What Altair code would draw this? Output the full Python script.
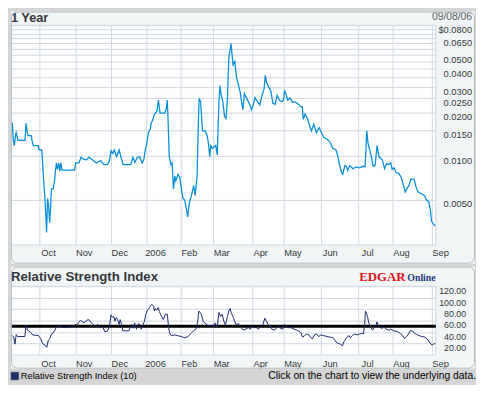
import altair as alt
import pandas as pd

# ---------------- data ----------------
month_labels = ["Oct", "Nov", "Dec", "2006", "Feb", "Mar", "Apr", "May", "Jun", "Jul", "Aug", "Sep"]
month_idx = [17, 38, 59, 80, 100, 119, 142, 161, 183, 205, 225, 248]  # trading-day index of month starts

price_grid = [0.005, 0.01, 0.015, 0.02, 0.025, 0.03, 0.035, 0.04, 0.045, 0.05,
              0.055, 0.06, 0.065, 0.07, 0.075, 0.08]
price_labels = [0.005, 0.01, 0.015, 0.02, 0.025, 0.03, 0.04, 0.05, 0.065, 0.08]
price_label_text = ["0.0050", "0.0100", "0.0150", "0.0200", "0.0250", "0.0300", "0.0400",
                    "0.0500", "0.0650", "$0.0800"]
rsi_grid = [0, 20, 40, 60, 80, 100, 120]
rsi_labels = [20, 40, 60, 80, 100, 120]
rsi_label_text = ["20.00", "40.00", "60.00", "80.00", "100.00", "120.00"]
rsi_mid = [50]

top_i = [0, 0.8, 1.4, 2.0, 2.8, 3.1, 4.1, 8.3, 8.9, 9.5,
         10.1, 12.0, 12.4, 13.2, 16.1, 16.6, 18.2, 18.6, 19.3, 20.1,
         20.7, 21.0, 21.6, 22.2, 22.8, 23.4, 23.9, 24.9, 25.7, 26.2,
         26.8, 27.4, 28.2, 28.8, 29.4, 30.1, 37.5, 38.2, 40.1, 41.3,
         42.7, 44.6, 45.9, 47.9, 50.3, 52.8, 54.8, 56.7, 58.0, 59.0,
         60.0, 60.9, 62.3, 63.8, 64.8, 66.1, 70.6, 71.9, 73.1, 74.5,
         76.0, 77.3, 78.3, 79.2, 80.2, 81.0, 82.1, 82.5, 83.7, 84.5,
         86.0, 86.9, 87.9, 90.8, 91.6, 92.1, 92.5, 93.3, 94.3, 95.0,
         95.8, 96.6, 97.2, 98.5, 99.5, 100.5, 101.4, 102.4, 103.7, 104.1,
         105.3, 106.2, 107.7, 108.6, 109.7, 110.3, 110.9, 111.8, 112.9, 114.5,
         115.7, 116.4, 117.2, 117.8, 118.7, 120.7, 121.6, 122.6, 123.2, 123.8,
         124.9, 125.9, 126.8, 127.6, 128.4, 129.7, 130.9, 131.9, 133.0, 134.2,
         135.1, 136.1, 136.7, 137.6, 139.0, 140.5, 141.8, 142.8, 143.8, 145.3,
         146.7, 148.0, 149.2, 149.9, 150.7, 151.9, 153.1, 154.4, 155.7, 156.9,
         158.3, 159.6, 160.6, 161.3, 162.3, 163.1, 164.4, 166.0, 167.0, 168.8,
         170.8, 171.7, 172.3, 173.4, 174.6, 175.8, 177.1, 178.5, 180.0, 181.7,
         182.9, 184.3, 186.2, 188.1, 189.7, 191.6, 192.5, 193.9, 194.9, 195.6,
         196.8, 197.7, 198.5, 199.7, 201.6, 203.5, 205.4, 207.7, 208.7, 209.3,
         209.7, 210.5, 211.2, 212.6, 213.5, 214.6, 215.8, 216.9, 218.9, 220.2,
         221.4, 222.7, 223.9, 224.7, 225.8, 227.1, 228.6, 230.1, 231.4, 232.4,
         233.6, 234.7, 235.7, 237.6, 238.8, 240.1, 242.1, 243.6, 245.0, 246.3,
         247.3, 247.9, 248.8, 250.2]

top_v = [0.0168, 0.0168, 0.0129, 0.0118, 0.0142, 0.0145, 0.0128, 0.0128, 0.0168, 0.0149,
         0.0138, 0.0138, 0.0128, 0.0118, 0.0118, 0.0110, 0.0110, 0.00916, 0.00673, 0.00495,
         0.00355, 0.00296, 0.00508, 0.00458, 0.00346, 0.00449, 0.00592, 0.00592, 0.00673, 0.00785,
         0.00894, 0.00806, 0.00894, 0.00785, 0.00894, 0.00797, 0.00797, 0.00894, 0.00894, 0.0098,
         0.0095, 0.0094, 0.0098, 0.0094, 0.00894, 0.0093, 0.00871, 0.00871, 0.00916, 0.01085,
         0.0104, 0.0110, 0.0099, 0.0110, 0.0099, 0.00871, 0.00871, 0.0098, 0.00902, 0.0098,
         0.0098, 0.00894, 0.0094, 0.0110, 0.01246, 0.0145, 0.0153, 0.01655, 0.0179, 0.0193,
         0.0203, 0.0243, 0.0198, 0.0198, 0.0214, 0.0243, 0.0193, 0.0099, 0.00871, 0.00894,
         0.00592, 0.00727, 0.00673, 0.00746, 0.00709, 0.00592, 0.00508, 0.00495, 0.00414, 0.00379,
         0.00483, 0.00521, 0.00623, 0.00534, 0.00727, 0.0142, 0.0249, 0.0237, 0.0149, 0.0149,
         0.0138, 0.0122, 0.0099, 0.0118, 0.0113, 0.0118, 0.01015, 0.0237, 0.0306, 0.0269,
         0.0237, 0.0188, 0.01815, 0.0249, 0.0474, 0.0597, 0.0427, 0.0450, 0.0348, 0.0306,
         0.0276, 0.0231, 0.0209, 0.0269, 0.0249, 0.0231, 0.0209, 0.0225, 0.0253, 0.0237,
         0.0225, 0.0263, 0.0291, 0.0361, 0.0322, 0.0299, 0.0284, 0.0231, 0.0227, 0.0263,
         0.0243, 0.0237, 0.0243, 0.0284, 0.0263, 0.0243, 0.0252, 0.0234, 0.0237, 0.0231,
         0.0219, 0.0219, 0.0179, 0.0195, 0.0183, 0.01655, 0.0149, 0.01655, 0.0145, 0.0157,
         0.0145, 0.01346, 0.0131, 0.01246, 0.0113, 0.0110, 0.01015, 0.00848, 0.00766, 0.00746,
         0.00857, 0.00848, 0.00794, 0.00857, 0.00815, 0.0084, 0.00827, 0.00848, 0.0084, 0.0113,
         0.0149, 0.0122, 0.0113, 0.00965, 0.00848, 0.00857, 0.0118, 0.0099, 0.0094, 0.00815,
         0.00884, 0.00871, 0.00894, 0.00806, 0.00827, 0.00766, 0.00758, 0.00709, 0.00623, 0.00563,
         0.00599, 0.0063, 0.00691, 0.00691, 0.00608, 0.00563, 0.00548, 0.00534, 0.00495, 0.00483,
         0.00414, 0.00355, 0.0034, 0.00328]

rsi_i = [0.0, 0.8, 1.6, 2.4, 3.1, 3.9, 4.7, 8.2, 8.9, 9.7,
         10.5, 11.6, 12.8, 16.2, 17.6, 18.6, 20.1, 21.1, 22.0, 22.8,
         23.9, 24.7, 25.9, 26.8, 28.2, 29.3, 32.0, 34.0, 36.9, 37.8,
         38.8, 39.7, 40.9, 41.7, 43.2, 44.6, 45.9, 47.1, 48.4, 49.8,
         51.3, 52.5, 54.2, 55.2, 56.7, 57.9, 59.0, 59.8, 60.6, 61.3,
         62.1, 62.9, 63.8, 64.4, 65.2, 65.9, 67.7, 69.6, 71.0, 72.1,
         72.9, 74.0, 75.0, 76.0, 76.7, 77.9, 78.7, 79.4, 80.2, 81.2,
         82.1, 83.1, 84.1, 84.6, 85.2, 86.0, 86.8, 87.5, 88.3, 89.8,
         91.0, 92.2, 92.9, 93.7, 94.7, 96.6, 97.9, 100.4, 102.4, 104.3,
         106.2, 107.6, 109.1, 110.1, 110.7, 111.4, 112.2, 113.3, 114.1, 115.3,
         116.8, 118.7, 119.7, 120.3, 121.6, 122.6, 123.6, 124.5, 125.5, 126.4,
         127.6, 128.4, 129.2, 129.9, 131.1, 131.8, 132.6, 134.2, 135.7, 137.0,
         138.4, 139.9, 141.1, 142.3, 143.4, 144.8, 145.7, 147.3, 148.6, 149.6,
         150.5, 151.5, 153.0, 153.8, 155.4, 156.5, 157.7, 158.8, 160.2, 161.1,
         162.3, 163.4, 165.0, 166.9, 168.5, 169.8, 170.8, 171.9, 173.1, 174.2,
         175.6, 176.5, 177.7, 178.9, 180.0, 181.4, 182.7, 184.3, 186.2, 188.1,
         190.0, 191.6, 192.9, 194.3, 195.4, 196.2, 197.4, 198.1, 199.3, 200.0,
         201.2, 202.6, 203.9, 205.5, 206.8, 207.8, 208.5, 208.9, 209.7, 210.3,
         210.9, 212.2, 213.2, 214.1, 215.1, 215.7, 216.6, 217.4, 218.9, 219.9,
         221.2, 222.8, 223.9, 225.7, 227.6, 229.5, 230.9, 232.0, 233.2, 234.3,
         235.3, 236.7, 237.8, 239.2, 240.5, 242.1, 244.0, 246.0, 247.5, 248.2,
         249.0, 250.2]

rsi_v = [33.9, 33.9, 31.1, 18.9, 35.6, 32.2, 32.2, 32.2, 52.2, 43.3,
         42.2, 39.4, 35.0, 33.9, 28.3, 20.0, 17.2, 13.3, 25.6, 28.3,
         36.7, 37.8, 43.3, 48.9, 50.6, 48.9, 47.8, 48.9, 48.9, 53.3,
         52.2, 56.1, 60.6, 58.9, 56.1, 60.6, 61.7, 57.2, 53.3, 50.6,
         53.3, 47.8, 48.9, 41.1, 41.1, 47.8, 70.0, 65.6, 67.2, 58.9,
         65.6, 61.7, 53.3, 61.7, 53.3, 42.2, 42.2, 42.2, 53.3, 46.7,
         56.1, 45.0, 54.4, 53.3, 45.0, 53.3, 58.9, 70.0, 76.7, 81.1,
         85.0, 87.8, 85.6, 76.7, 81.1, 78.3, 82.8, 75.6, 70.0, 61.7,
         71.1, 71.1, 47.8, 36.7, 33.9, 35.0, 33.9, 32.2, 30.0, 32.2,
         37.8, 42.2, 45.0, 58.9, 76.7, 74.4, 71.1, 58.9, 56.1, 53.3,
         50.6, 52.2, 47.8, 56.1, 48.9, 74.4, 67.2, 71.1, 58.9, 52.2,
         67.2, 76.7, 81.1, 72.8, 65.6, 58.9, 53.3, 54.4, 47.8, 43.3,
         45.0, 47.8, 45.0, 50.6, 47.8, 47.8, 45.0, 48.9, 53.3, 64.4,
         58.9, 53.3, 50.6, 45.0, 43.3, 47.8, 50.6, 46.7, 45.0, 53.3,
         50.6, 47.8, 47.8, 45.0, 43.3, 41.1, 39.4, 31.1, 33.9, 36.7,
         35.0, 31.1, 28.3, 35.0, 36.7, 32.2, 35.0, 33.9, 32.2, 31.1,
         30.0, 22.8, 20.0, 18.9, 15.6, 22.8, 28.3, 31.1, 33.9, 30.0,
         33.9, 36.7, 35.0, 36.7, 37.8, 36.7, 53.3, 76.7, 71.1, 65.6,
         56.1, 47.8, 43.3, 47.8, 50.6, 57.8, 50.6, 47.8, 46.7, 48.9,
         45.0, 43.3, 45.0, 42.2, 41.1, 37.8, 33.9, 28.3, 32.2, 36.7,
         42.2, 42.2, 37.8, 35.6, 33.9, 32.2, 31.1, 25.6, 18.9, 17.2,
         18.9, 20.0]

# ---------------- styling ----------------
FONT = "Liberation Sans"
BG = "#d5d5d5"
PANEL = "#f1f5f5"
PANEL_EDGE = "#b4bcc2"
GRID = "#d0d8e1"
TXT = "#33383c"
W = 433
H_TOP = 224
H_RSI = 70
PANEL_W = 473

top_df = pd.DataFrame({"i": top_i, "v": top_v, "o": list(range(len(top_i)))})
rsi_df = pd.DataFrame({"i": rsi_i, "v": rsi_v, "o": list(range(len(rsi_i)))})
months_df = pd.DataFrame({"m": month_idx, "t": month_labels})
plab_df = pd.DataFrame({"v": price_labels, "t": price_label_text})
rlab_df = pd.DataFrame({"v": rsi_labels, "t": rsi_label_text})
rmid_df = pd.DataFrame({"g": rsi_mid})
one = pd.DataFrame({"k": [0]})

x_scale = alt.Scale(domain=[0, 250.4], nice=False, zero=False)
x_axis = alt.Axis(values=month_idx, grid=True, gridColor=GRID, gridWidth=1, labels=False,
                  ticks=False, domain=False, title=None)

y_top_scale = alt.Scale(type="log", domain=[0.00242, 0.08], nice=False)
y_top_axis = alt.Axis(orient="right", values=price_grid, grid=True, gridColor=GRID, gridWidth=1,
                      labels=False, ticks=False, domain=False, title=None)

y_rsi_scale = alt.Scale(domain=[0, 120], nice=False, zero=False)
y_rsi_axis = alt.Axis(orient="right", values=rsi_grid, grid=True, gridColor=GRID, gridWidth=1,
                      labels=False, ticks=False, domain=False, title=None)


def rect(x0, x1, y0, y1, **kw):
    return alt.Chart(one).mark_rect(**kw).encode(
        x=alt.value(x0), x2=alt.value(x1), y=alt.value(y0), y2=alt.value(y1))


def panel_strips(top_y, h, bottom_y):
    # panel background around (not over) the plot area
    return [
        rect(0, PANEL_W, top_y, 0, fill=PANEL),
        rect(W, PANEL_W, 0, h, fill=PANEL),
        rect(0, PANEL_W, h, bottom_y, fill=PANEL),
    ]


def text(t, x, y, size, color=TXT, align="left", weight="normal", baseline="middle", font=FONT):
    return alt.Chart(one).mark_text(text=t, align=align, baseline=baseline, fontSize=size,
                                    font=font, fontWeight=weight, color=color).encode(
        x=alt.value(x), y=alt.value(y))


def month_text(h, dy):
    return alt.Chart(months_df).mark_text(align="center", baseline="middle", dx=9,
                                          fontSize=9.5, font=FONT, color=TXT).encode(
        x=alt.X("m:Q", scale=x_scale, axis=x_axis), y=alt.value(h + dy), text="t:N")


# ---------------- top panel ----------------
top = alt.layer(
    *panel_strips(-14, H_TOP, 243),
    rect(0, W, 0, H_TOP, fill="transparent", stroke=GRID, strokeWidth=1),
    alt.Chart(top_df).mark_line(color="#0a8fd8", strokeWidth=1.3).encode(
        x=alt.X("i:Q", scale=x_scale, axis=x_axis),
        y=alt.Y("v:Q", scale=y_top_scale, axis=y_top_axis),
        order="o:Q"),
    alt.Chart(plab_df).mark_text(align="right", baseline="middle", dy=5, fontSize=9.5,
                                 font=FONT, color=TXT).encode(
        x=alt.value(470), y=alt.Y("v:Q", scale=y_top_scale, axis=y_top_axis), text="t:N"),
    month_text(H_TOP, 8.5),
    text("1 Year", 0, -7.5, 13, weight="bold"),
    text("09/08/06", 470, -8, 10.5, color="#555a5e", align="right"),
    rect(0.5, PANEL_W - 0.5, -13.5, 242.5, fill="transparent", stroke=PANEL_EDGE,
         strokeWidth=1, cornerRadius=6),
).properties(width=W, height=H_TOP)

# ---------------- RSI panel ----------------
bottom = alt.layer(
    *panel_strips(-20, H_RSI, 84),
    rect(0, W, 0, H_RSI, fill="transparent", stroke=GRID, strokeWidth=1),
    alt.Chart(rmid_df).mark_rule(color="black", strokeWidth=3).encode(
        y=alt.Y("g:Q", scale=y_rsi_scale, axis=y_rsi_axis),
        x=alt.value(0), x2=alt.value(W)),
    alt.Chart(rsi_df).mark_line(color="#1c2a6a", strokeWidth=1).encode(
        x=alt.X("i:Q", scale=x_scale, axis=x_axis),
        y=alt.Y("v:Q", scale=y_rsi_scale, axis=y_rsi_axis),
        order="o:Q"),
    alt.Chart(rlab_df).mark_text(align="right", baseline="middle", dy=5, fontSize=9,
                                 font=FONT, color=TXT).encode(
        x=alt.value(464), y=alt.Y("v:Q", scale=y_rsi_scale, axis=y_rsi_axis), text="t:N"),
    month_text(H_RSI, 9.5),
    text("Relative Strength Index", 0, -9.5, 13.5, weight="bold"),
    text("EDGAR", 402, -5, 13, color="#e0101a", align="right", weight="bold",
         baseline="alphabetic", font="Liberation Serif"),
    text("Online", 404, -5, 10, color="#1d3c7c", align="left", weight="bold",
         baseline="alphabetic", font="Liberation Serif"),
    rect(0.5, PANEL_W - 0.5, -19.5, 83.5, fill="transparent", stroke=PANEL_EDGE,
         strokeWidth=1, cornerRadius=6),
    rect(0, 8, 87.5, 95.5, fill="#1f2f6c", stroke="#5a6488", strokeWidth=0.5),
    text("Relative Strength Index (10)", 10, 91.5, 9.5, color="black"),
    text("Click on the chart to view the underlying data.", 474, 91.5, 10.5, color="black",
         align="right"),
).properties(width=W, height=H_RSI)

chart = alt.vconcat(top, bottom, spacing=3).properties(
    padding=0, background=BG
).configure_view(stroke=None, fill="white")

chart.save("out.html", embed_options={"renderer": "svg", "actions": False})
